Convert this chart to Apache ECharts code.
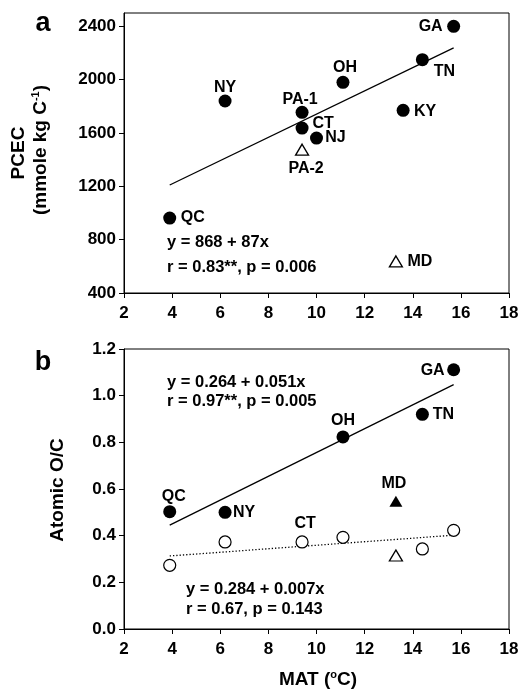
<!DOCTYPE html>
<html><head><meta charset="utf-8">
<script src="https://cdn.jsdelivr.net/npm/echarts@6/dist/echarts.min.js"></script>
<style>html,body{margin:0;padding:0;background:#fff}#c{width:529px;height:689px}</style>
</head><body><div id="c"></div>
<script>
const FONT = '"Liberation Sans", Arial, Helvetica, sans-serif';

// ---- shared x axis ----
const xTicks = [2, 4, 6, 8, 10, 12, 14, 16, 18];

// ---- Panel a: PCEC ----
const yTicksA = [400, 800, 1200, 1600, 2000, 2400];
const sitesA = ['QC', 'NY', 'PA-1', 'CT', 'NJ', 'OH', 'KY', 'TN', 'GA'];
const matA = [3.9, 6.2, 9.4, 9.4, 10.0, 11.1, 13.6, 14.4, 15.7];
const pcecA = [962, 1840, 1755, 1637, 1562, 1980, 1770, 2150, 2400];
const triSitesA = ['PA-2', 'MD'];
const triMatA = [9.4, 13.3];
const triPcecA = [1475, 637];
const fitMatA = [3.9, 15.7];
const fitPcecA = [1210, 2238];

// ---- Panel b: Atomic O/C ----
const yTicksB = [0, 0.2, 0.4, 0.6, 0.8, 1.0, 1.2];
const sitesB = ['QC', 'NY', 'OH', 'TN', 'GA'];
const matB = [3.9, 6.2, 11.1, 14.4, 15.7];
const ocB = [0.503, 0.500, 0.823, 0.920, 1.111];
const triSitesB = ['MD'];
const triMatB = [13.3];
const triOcB = [0.547];
const openSitesB = ['', '', 'CT', '', '', ''];
const openMatB = [3.9, 6.2, 9.4, 11.1, 14.4, 15.7];
const openOcB = [0.273, 0.373, 0.373, 0.393, 0.343, 0.423];
const openTriMatB = [13.3];
const openTriOcB = [0.315];
const fitMatB = [3.9, 15.7];
const fitOcB = [0.445, 1.047];
const fit2MatB = [3.9, 15.7];
const fit2OcB = [0.313, 0.402];

// label offsets (px) relative to the marker centre
const labelOffA = {QC:[23,0], NY:[0,-13], 'PA-1':[-2,-13], CT:[21,-4], NJ:[19,0], OH:[2,-15],
  KY:[22,1], TN:[22,12], GA:[-23,0], 'PA-2':[4,19], MD:[24,0]};
const labelOffB = {QC:[4,-15], NY:[19,0], OH:[0,-16], TN:[21,0], GA:[-21,1], MD:[-2,-18], CT:[3,-18]};

const labelStyle = {fontFamily: FONT, fontWeight: 'bold', fontSize: 16, color: '#000', textBorderWidth: 0, opacity: 1};

function pts(xs, ys, names, offs) {
  return xs.map((x, i) => {
    const n = names ? names[i] : '';
    return {
      value: [x, ys[i]],
      name: n,
      label: n ? Object.assign({show: true, position: 'inside', offset: offs[n], formatter: n}, labelStyle) : {show: false}
    };
  });
}
function pairs(xs, ys) { return xs.map((x, i) => [x, ys[i]]); }

const axisLabelStyle = {color: '#000', fontFamily: FONT, fontWeight: 'bold', fontSize: 17};
function xAxis(grid) {
  return {
    type: 'value', gridIndex: grid, min: xTicks[0], max: xTicks[xTicks.length - 1], interval: 2,
    axisLine: {show: true, onZero: false, lineStyle: {color: '#000', width: 1}},
    axisTick: {show: true, inside: false, length: 5, lineStyle: {color: '#000'}},
    axisLabel: Object.assign({margin: 12, formatter: v => String(v)}, axisLabelStyle),
    splitLine: {show: false}
  };
}

const option = {
  animation: false,
  backgroundColor: '#fff',
  grid: [
    {left: 124, right: 20, top: 13, height: 280, show: true, borderColor: '#000', borderWidth: 1},
    {left: 124, right: 20, top: 349, height: 280, show: true, borderColor: '#000', borderWidth: 1}
  ],
  xAxis: [xAxis(0), xAxis(1)],
  yAxis: [
    {
      type: 'value', gridIndex: 0, min: 400, max: 2500, interval: 400,
      axisLine: {show: true, onZero: false, lineStyle: {color: '#000'}},
      axisTick: {show: true, length: 5, customValues: yTicksA, lineStyle: {color: '#000'}},
      axisLabel: Object.assign({margin: 8, customValues: yTicksA, formatter: v => String(v)}, axisLabelStyle),
      splitLine: {show: false}
    },
    {
      type: 'value', gridIndex: 1, min: 0, max: 1.2, interval: 0.2,
      axisLine: {show: true, onZero: false, lineStyle: {color: '#000'}},
      axisTick: {show: true, length: 5, lineStyle: {color: '#000'}},
      axisLabel: Object.assign({margin: 8, formatter: v => v.toFixed(1)}, axisLabelStyle),
      splitLine: {show: false}
    }
  ],
  series: [
    // panel a
    {type: 'line', xAxisIndex: 0, yAxisIndex: 0, data: pairs(fitMatA, fitPcecA), symbol: 'none',
      lineStyle: {color: '#000', width: 1.3}, silent: true, z: 1},
    {type: 'scatter', xAxisIndex: 0, yAxisIndex: 0, data: pts(matA, pcecA, sitesA, labelOffA),
      symbol: 'circle', symbolSize: 13, itemStyle: {color: '#000', opacity: 1}, z: 3},
    {type: 'scatter', xAxisIndex: 0, yAxisIndex: 0, data: pts(triMatA, triPcecA, triSitesA, labelOffA),
      symbol: 'triangle', symbolSize: [13, 11], itemStyle: {color: '#fff', borderColor: '#000', borderWidth: 1.3, opacity: 1}, z: 3},
    // panel b
    {type: 'line', xAxisIndex: 1, yAxisIndex: 1, data: pairs(fitMatB, fitOcB), symbol: 'none',
      lineStyle: {color: '#000', width: 1.3}, silent: true, z: 1},
    {type: 'line', xAxisIndex: 1, yAxisIndex: 1, data: pairs(fit2MatB, fit2OcB), symbol: 'none',
      lineStyle: {color: '#000', width: 1.3, type: [1.3, 2]}, silent: true, z: 1},
    {type: 'scatter', xAxisIndex: 1, yAxisIndex: 1, data: pts(matB, ocB, sitesB, labelOffB),
      symbol: 'circle', symbolSize: 13, itemStyle: {color: '#000', opacity: 1}, z: 3},
    {type: 'scatter', xAxisIndex: 1, yAxisIndex: 1, data: pts(triMatB, triOcB, triSitesB, labelOffB),
      symbol: 'triangle', symbolSize: [13, 11], itemStyle: {color: '#000', opacity: 1}, z: 3},
    {type: 'scatter', xAxisIndex: 1, yAxisIndex: 1, data: pts(openMatB, openOcB, openSitesB, labelOffB),
      symbol: 'circle', symbolSize: 12, itemStyle: {color: '#fff', borderColor: '#000', borderWidth: 1.2, opacity: 1}, z: 3},
    {type: 'scatter', xAxisIndex: 1, yAxisIndex: 1, data: pts(openTriMatB, openTriOcB, null, labelOffB),
      symbol: 'triangle', symbolSize: [13, 11], itemStyle: {color: '#fff', borderColor: '#000', borderWidth: 1.3, opacity: 1}, z: 3}
  ],
  graphic: [
    {type: 'text', x: 43, y: 24, style: {text: 'a', font: 'bold 27px ' + FONT, fill: '#000', align: 'center', verticalAlign: 'middle'}},
    {type: 'text', x: 43, y: 363, style: {text: 'b', font: 'bold 27px ' + FONT, fill: '#000', align: 'center', verticalAlign: 'middle'}},
    {type: 'text', x: 19, y: 153, rotation: Math.PI / 2,
      style: {text: 'PCEC', font: 'bold 19px ' + FONT, fill: '#000', align: 'center', verticalAlign: 'middle'}},
    {type: 'text', x: 41, y: 150, rotation: Math.PI / 2,
      style: {text: '{m|(mmole kg C}{s|-1}{m|)}', align: 'center', verticalAlign: 'middle',
        rich: {m: {font: 'bold 19px ' + FONT, fill: '#000', color: '#000', lineHeight: 22},
               s: {font: 'bold 11px ' + FONT, fill: '#000', color: '#000', verticalAlign: 'top', lineHeight: 14}}}},
    {type: 'text', x: 58, y: 490, rotation: Math.PI / 2,
      style: {text: 'Atomic O/C', font: 'bold 19px ' + FONT, fill: '#000', align: 'center', verticalAlign: 'middle'}},
    {type: 'text', x: 318, y: 680,
      style: {text: '{m|MAT (}{s|o}{m|C)}', align: 'center', verticalAlign: 'middle',
        rich: {m: {font: 'bold 19px ' + FONT, color: '#000', lineHeight: 22},
               s: {font: 'bold 11px ' + FONT, color: '#000', verticalAlign: 'top', lineHeight: 14}}}},
    {type: 'text', x: 167, y: 242, style: {text: 'y = 868 + 87x', font: 'bold 16.5px ' + FONT, fill: '#000', align: 'left', verticalAlign: 'middle'}},
    {type: 'text', x: 167, y: 267, style: {text: 'r = 0.83**, p = 0.006', font: 'bold 16.5px ' + FONT, fill: '#000', align: 'left', verticalAlign: 'middle'}},
    {type: 'text', x: 167, y: 382, style: {text: 'y = 0.264 + 0.051x', font: 'bold 16.5px ' + FONT, fill: '#000', align: 'left', verticalAlign: 'middle'}},
    {type: 'text', x: 167, y: 401, style: {text: 'r = 0.97**, p = 0.005', font: 'bold 16.5px ' + FONT, fill: '#000', align: 'left', verticalAlign: 'middle'}},
    {type: 'text', x: 186, y: 589, style: {text: 'y = 0.284 + 0.007x', font: 'bold 16.5px ' + FONT, fill: '#000', align: 'left', verticalAlign: 'middle'}},
    {type: 'text', x: 186, y: 609, style: {text: 'r = 0.67, p = 0.143', font: 'bold 16.5px ' + FONT, fill: '#000', align: 'left', verticalAlign: 'middle'}}
  ]
};

const chart = echarts.init(document.getElementById('c'), null, {renderer: 'canvas'});
chart.setOption(option);
</script>
</body></html>
